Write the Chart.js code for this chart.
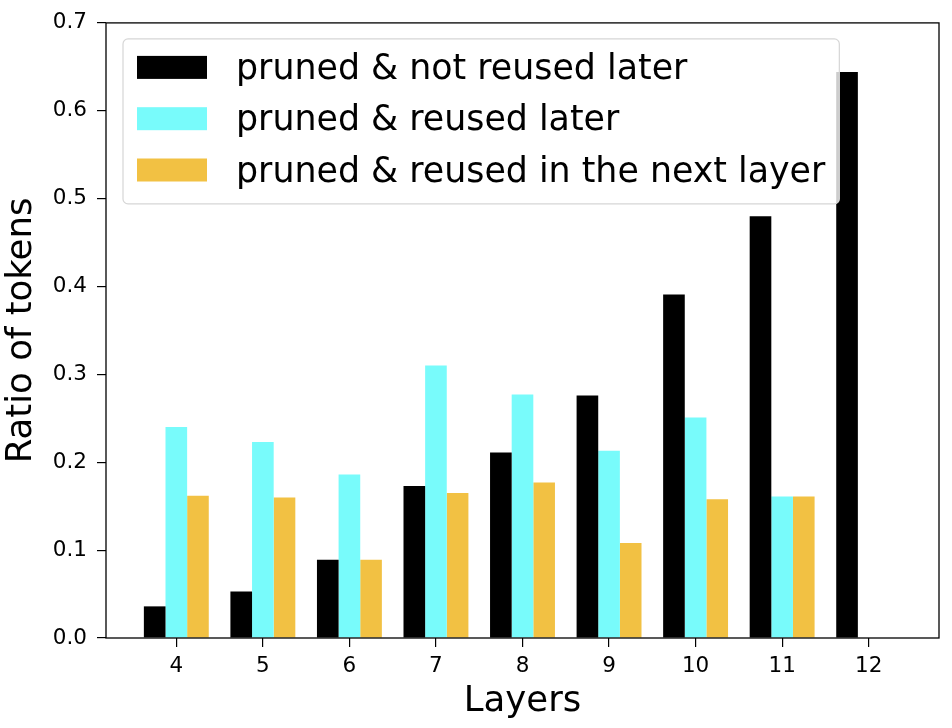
<!DOCTYPE html>
<html>
<head>
<meta charset="utf-8">
<script src="https://cdn.jsdelivr.net/npm/chart.js@4/dist/chart.umd.min.js"></script>
<style>
  html, body { margin: 0; padding: 0; background: #fff; }
  canvas { display: block; }
</style>
</head>
<body>
<canvas id="ratioChart" width="952" height="728"></canvas>
<script>
// data
const layers = [4, 5, 6, 7, 8, 9, 10, 11, 12];
const notReusedLater = [0.036, 0.053, 0.089, 0.173, 0.211, 0.276, 0.391, 0.480, 0.644];
const reusedLater = [0.240, 0.223, 0.186, 0.310, 0.277, 0.213, 0.251, 0.161, 0];
const reusedNextLayer = [0.162, 0.160, 0.089, 0.165, 0.177, 0.108, 0.158, 0.161, 0];
const seriesLabels = ["pruned & not reused later", "pruned & reused later", "pruned & reused in the next layer"];
const yTicks = [0, 0.1, 0.2, 0.3, 0.4, 0.5, 0.6, 0.7];

const FONT = "'DejaVu Sans', sans-serif";
const colors = ["#000000", "#78fbfb", "#f2c143"];

function toPoints(values) {
    return layers.map((l, i) => ({ x: l, y: values[i] }));
}

// full box around the plot, like matplotlib spines
const framePlugin = {
    id: "frame",
    afterDatasetsDraw(chart) {
        const a = chart.chartArea;
        const ctx = chart.ctx;
        ctx.save();
        ctx.strokeStyle = "#000";
        ctx.lineWidth = 1.3;
        ctx.strokeRect(a.left, a.top, a.right - a.left, a.bottom - a.top);
        ctx.restore();
    }
};

// legend drawn inside the plot area, upper left
const insideLegend = {
    id: "insideLegend",
    afterDraw(chart) {
        const ctx = chart.ctx;
        const a = chart.chartArea;
        const fontSize = 34.8;
        ctx.save();
        ctx.font = fontSize + "px " + FONT;
        const widest = Math.max(...chart.data.datasets.map(d => ctx.measureText(d.label).width));
        const x0 = a.left + 17, y0 = a.top + 16;
        const swatchW = 70, swatchH = 23, gap = 29, pad = 14, rowH = 51.3;
        const w = pad + swatchW + gap + widest + pad;
        const h = 165;
        ctx.beginPath();
        ctx.roundRect(x0, y0, w, h, 5);
        ctx.fillStyle = "rgba(255,255,255,0.8)";
        ctx.fill();
        ctx.strokeStyle = "#d6d6d6";
        ctx.lineWidth = 1.2;
        ctx.stroke();
        chart.data.datasets.forEach((d, i) => {
            const cy = y0 + 28.5 + i * rowH;
            ctx.fillStyle = d.backgroundColor;
            ctx.fillRect(x0 + pad, cy - swatchH / 2, swatchW, swatchH);
            ctx.fillStyle = "#000";
            ctx.textBaseline = "alphabetic";
            ctx.textAlign = "left";
            ctx.fillText(d.label, x0 + pad + swatchW + gap, cy + 11.5);
        });
        ctx.restore();
    }
};

new Chart(document.getElementById("ratioChart"), {
    type: "bar",
    data: {
        datasets: [
            { label: seriesLabels[0], data: toPoints(notReusedLater), backgroundColor: colors[0] },
            { label: seriesLabels[1], data: toPoints(reusedLater), backgroundColor: colors[1] },
            { label: seriesLabels[2], data: toPoints(reusedNextLayer), backgroundColor: colors[2] }
        ]
    },
    options: {
        responsive: false,
        animation: false,
        devicePixelRatio: 1,
        layout: { padding: { top: 19, right: 13, left: 0, bottom: 0 } },
        datasets: {
            bar: { barPercentage: 1.0, categoryPercentage: 0.75, borderWidth: 0 }
        },
        plugins: {
            legend: { display: false },
            tooltip: { enabled: false }
        },
        scales: {
            x: {
                type: "linear",
                min: 3.1875,
                max: 12.8125,
                offset: false,
                afterBuildTicks: s => { s.ticks = layers.map(v => ({ value: v })); },
                afterFit: s => { s.height = 90; },
                border: { display: false },
                grid: { drawOnChartArea: false, drawTicks: true, tickLength: 9, color: "#000", lineWidth: 1.2, offset: false },
                ticks: { color: "#000", font: { family: FONT, size: 21.5 }, padding: 7, maxRotation: 0 },
                title: { display: true, text: "Layers", color: "#000", font: { family: FONT, size: 35.5 }, padding: { top: 0, bottom: 5 } }
            },
            y: {
                min: 0,
                max: 0.7,
                afterBuildTicks: s => { s.ticks = yTicks.map(v => ({ value: v })); },
                afterFit: s => { s.width = 106; },
                border: { display: false },
                grid: { drawOnChartArea: false, drawTicks: true, tickLength: 9, color: "#000", lineWidth: 1.2 },
                ticks: { color: "#000", font: { family: FONT, size: 21.5 }, padding: 10, callback: v => v.toFixed(1) },
                title: { display: true, text: "Ratio of tokens", color: "#000", font: { family: FONT, size: 35.5 }, padding: { top: 0, bottom: 0 } }
            }
        }
    },
    plugins: [framePlugin, insideLegend]
});
</script>
</body>
</html>
